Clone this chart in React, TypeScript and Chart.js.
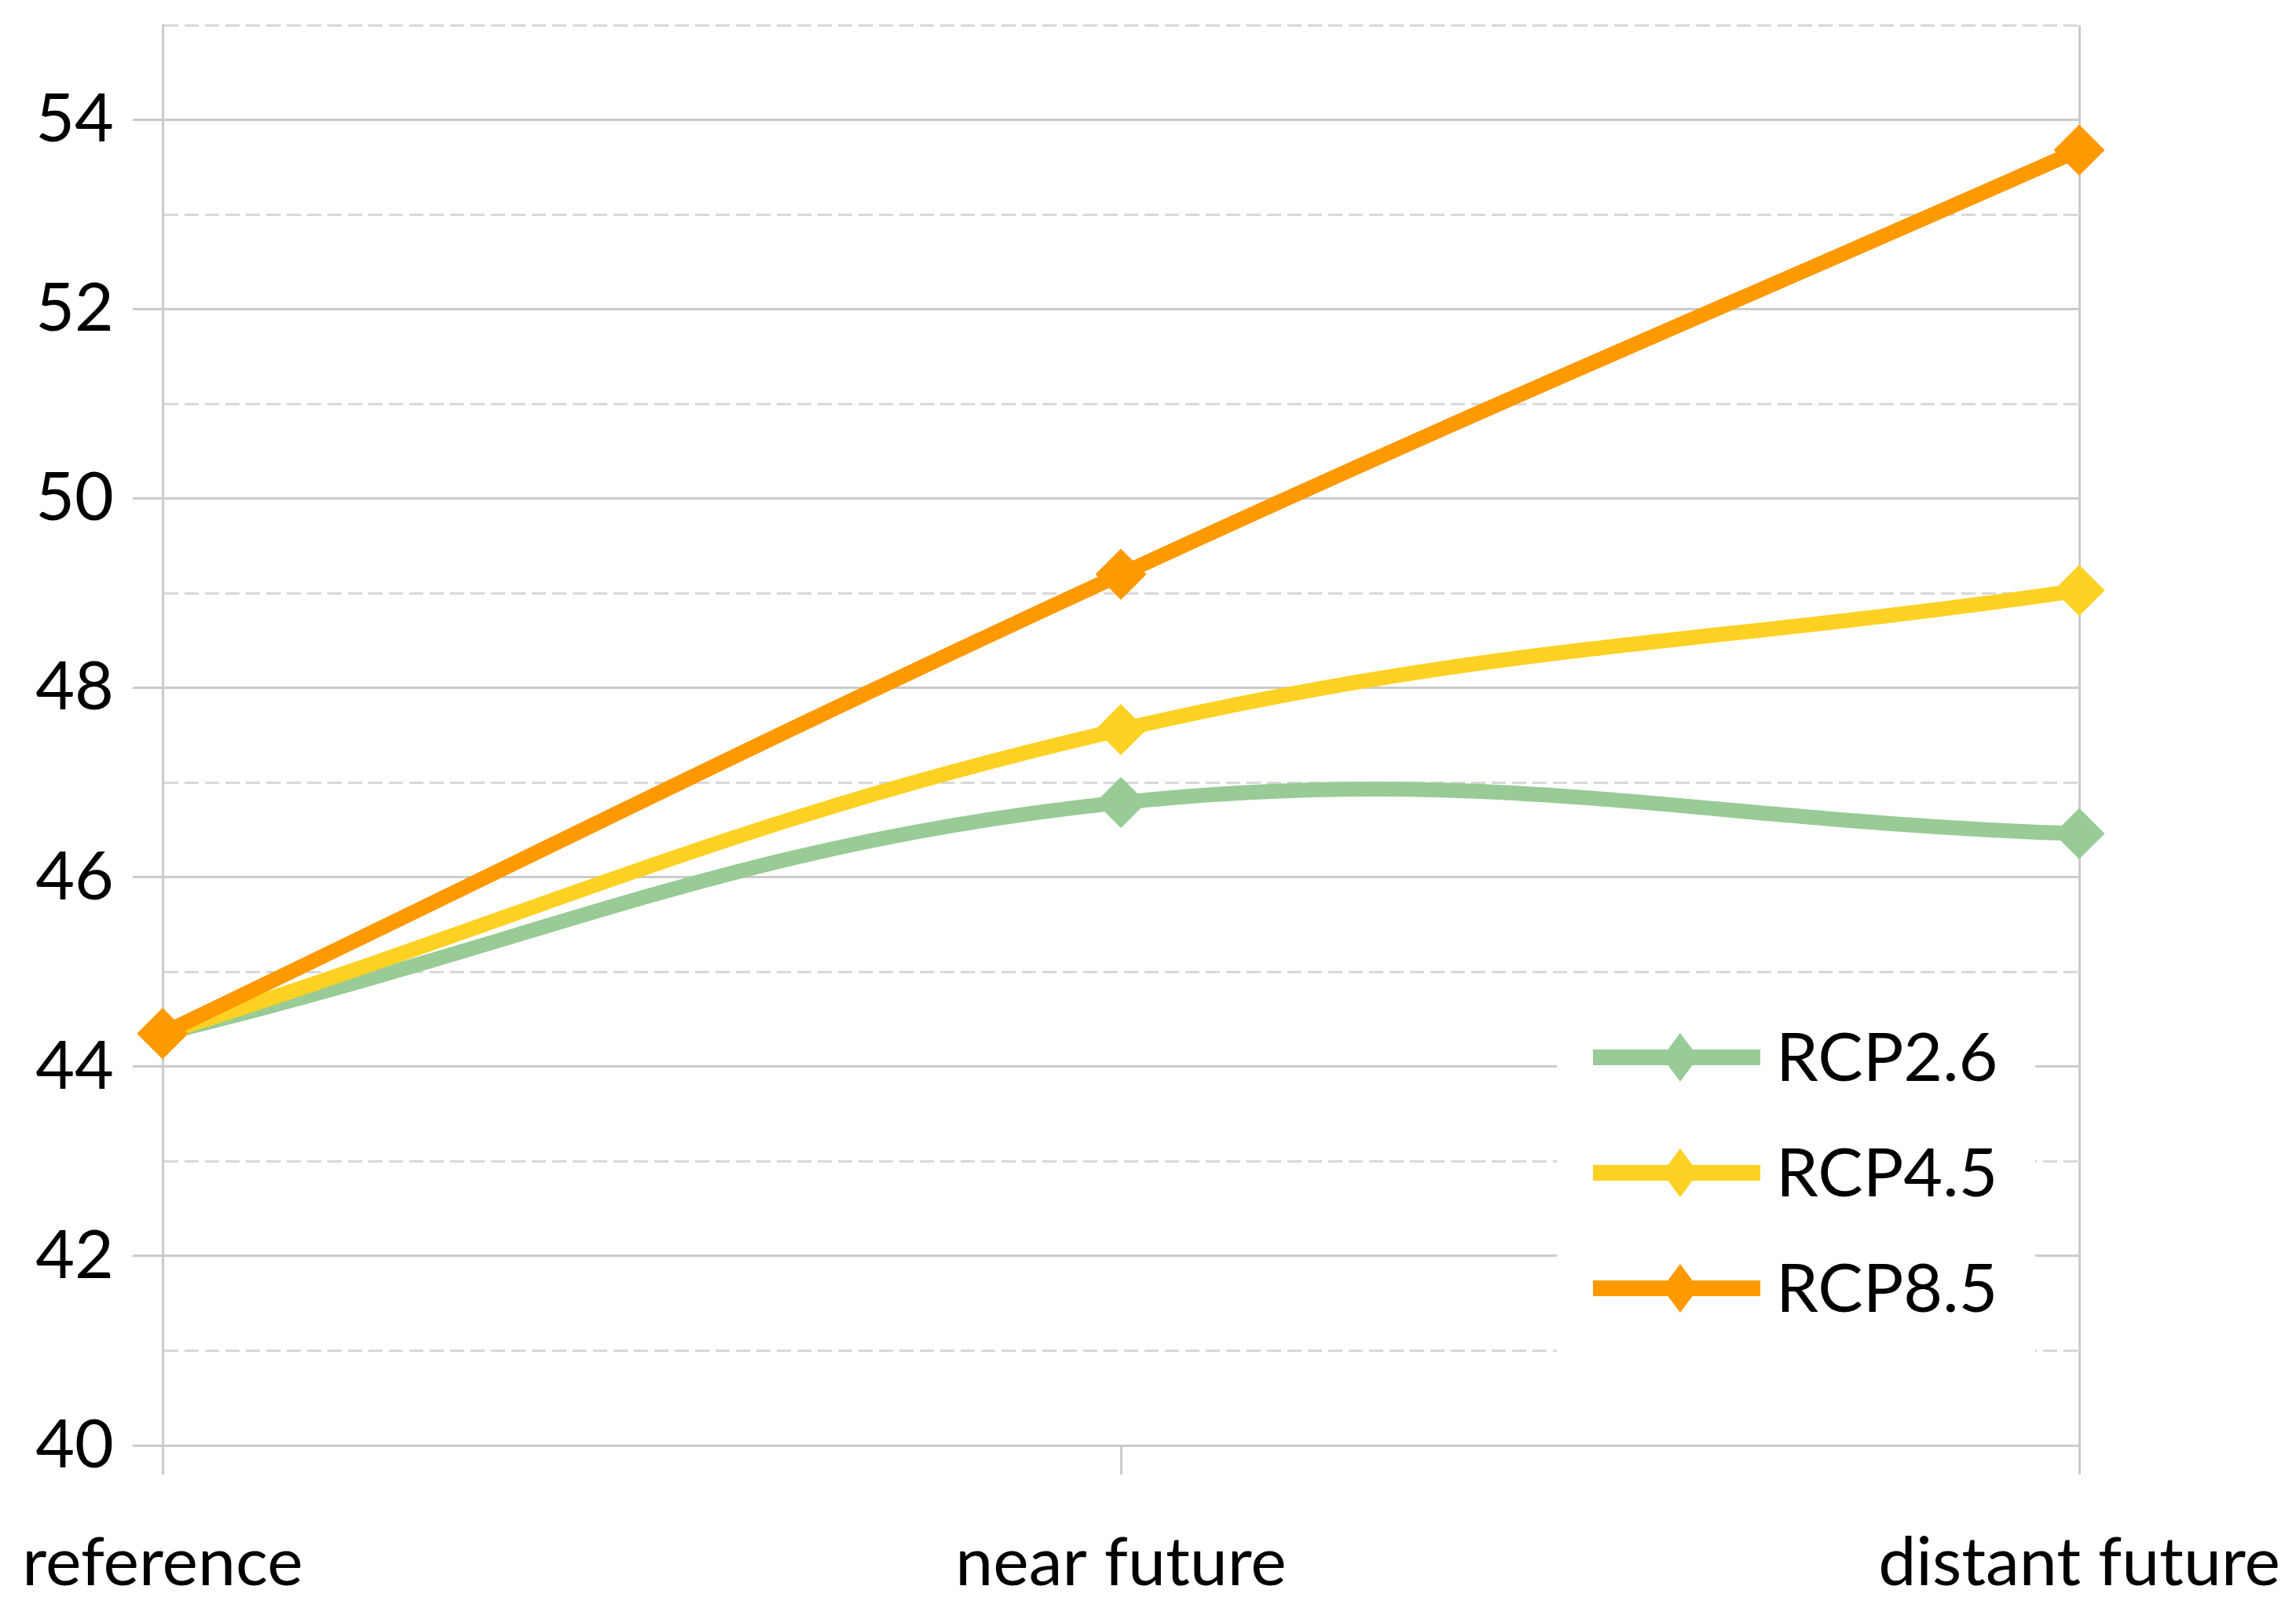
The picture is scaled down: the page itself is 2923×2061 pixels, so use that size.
import React, { useEffect, useRef } from 'react';
import { Chart, registerables } from 'chart.js';

Chart.register(...registerables);

const categories = ['reference', 'near future', 'distant future'];
const seriesNames = ['RCP2.6', 'RCP4.5', 'RCP8.5'];
const rcp26 = [44.35, 46.79, 46.46];
const rcp45 = [44.35, 47.56, 49.03];
const rcp85 = [44.35, 49.2, 53.68];
const seriesColors = ['#98CB96', '#FED122', '#FF9900'];
const yMin = 40;
const yMax = 55;
const yStep = 1;

const FONT = 'Lato, "Open Sans", sans-serif';
const GRID = '#CBCBCB';
const GRID_MINOR = '#D8D8D8';

const insideLegend = {
  id: 'insideLegend',
  afterDraw(chart: any) {
    const { ctx, chartArea } = chart;
    const boxL = chartArea.right - 665;
    const boxR = chartArea.right - 56;
    const boxT = chartArea.top + 1236;
    const boxB = chartArea.top + 1711;
    ctx.save();
    ctx.fillStyle = '#FFFFFF';
    ctx.fillRect(boxL, boxT, boxR - boxL, boxB - boxT);
    const rowGap = 147;
    const firstY = chartArea.top + 1314;
    chart.data.datasets.forEach((ds: any, i: number) => {
      const y = firstY + i * rowGap;
      const x1 = boxL + 46;
      const x2 = boxL + 259;
      const cx = boxL + 157;
      const rx = 23;
      const ry = 31;
      ctx.strokeStyle = ds.borderColor;
      ctx.lineWidth = 20;
      ctx.lineCap = 'butt';
      ctx.beginPath();
      ctx.moveTo(x1, y);
      ctx.lineTo(x2, y);
      ctx.stroke();
      ctx.fillStyle = ds.borderColor;
      ctx.beginPath();
      ctx.moveTo(cx, y - ry);
      ctx.lineTo(cx + rx, y);
      ctx.lineTo(cx, y + ry);
      ctx.lineTo(cx - rx, y);
      ctx.closePath();
      ctx.fill();
      ctx.fillStyle = '#000000';
      ctx.font = `86px ${FONT}`;
      ctx.textAlign = 'left';
      ctx.textBaseline = 'middle';
      ctx.fillText(ds.label, boxL + 279, y + 2);
    });
    ctx.restore();
  },
};

export default function App() {
  const ref = useRef<HTMLCanvasElement | null>(null);

  useEffect(() => {
    if (!ref.current) return;
    const values = [rcp26, rcp45, rcp85];
    const chart = new Chart(ref.current, {
      type: 'line',
      data: {
        labels: categories,
        datasets: values.map((d, i) => ({
          label: seriesNames[i],
          data: d,
          borderColor: seriesColors[i],
          backgroundColor: seriesColors[i],
          pointBackgroundColor: seriesColors[i],
          pointBorderColor: seriesColors[i],
          borderWidth: 19,
          pointStyle: 'rectRot',
          pointRadius: 32,
          pointBorderWidth: 1,
          tension: 0.4,
          borderJoinStyle: 'round',
          borderCapStyle: 'round',
          clip: false,
          order: values.length - 1 - i,
        })) as any,
      },
      options: {
        animation: false,
        responsive: true,
        maintainAspectRatio: false,
        layout: { autoPadding: false, padding: { top: 24, right: 268, bottom: 0, left: 0 } },
        plugins: { legend: { display: false }, tooltip: { enabled: false } },
        scales: {
          x: {
            type: 'category',
            offset: false,
            grid: {
              display: true,
              color: (c: any) => (c.index === categories.length - 1 ? GRID : 'rgba(0,0,0,0)'),
              lineWidth: 3,
              tickColor: GRID,
              tickLength: 37,
              tickWidth: 3,
            },
            border: { display: true, color: GRID, width: 3 },
            ticks: {
              color: '#000000',
              font: { family: FONT, size: 86 },
              padding: 62,
              maxRotation: 0,
              autoSkip: false,
            },
            afterFit: (s: any) => {
              s.height = 213;
              s.paddingLeft = 0;
              s.paddingRight = 0;
            },
          },
          y: {
            min: yMin,
            max: yMax,
            ticks: {
              stepSize: yStep,
              color: '#000000',
              font: { family: FONT, size: 86 },
              padding: 24,
              autoSkip: false,
              callback: (v: any) => (Number(v) % 2 === 0 ? String(v) : ''),
            },
            grid: {
              color: (c: any) => (c.tick && c.tick.value % 2 === 0 ? GRID : GRID_MINOR),
              lineWidth: 3,
              tickLength: 38,
              tickWidth: 3,
              tickColor: (c: any) => (c.tick && c.tick.value % 2 === 0 ? GRID : 'rgba(0,0,0,0)'),
            },
            border: {
              display: true,
              color: GRID,
              width: 3,
              dash: (c: any) => (c.tick && c.tick.value % 2 !== 0 ? [18, 8] : []),
            } as any,
            afterFit: (s: any) => {
              s.width = 199;
              s.paddingTop = 0;
              s.paddingBottom = 0;
            },
          },
        },
      } as any,
      plugins: [insideLegend],
    });
    return () => chart.destroy();
  }, []);

  return (
    <div style={{ position: 'relative', width: '2907px', height: '2045px' }}>
      <canvas ref={ref} style={{ display: 'block' }} />
    </div>
  );
}
